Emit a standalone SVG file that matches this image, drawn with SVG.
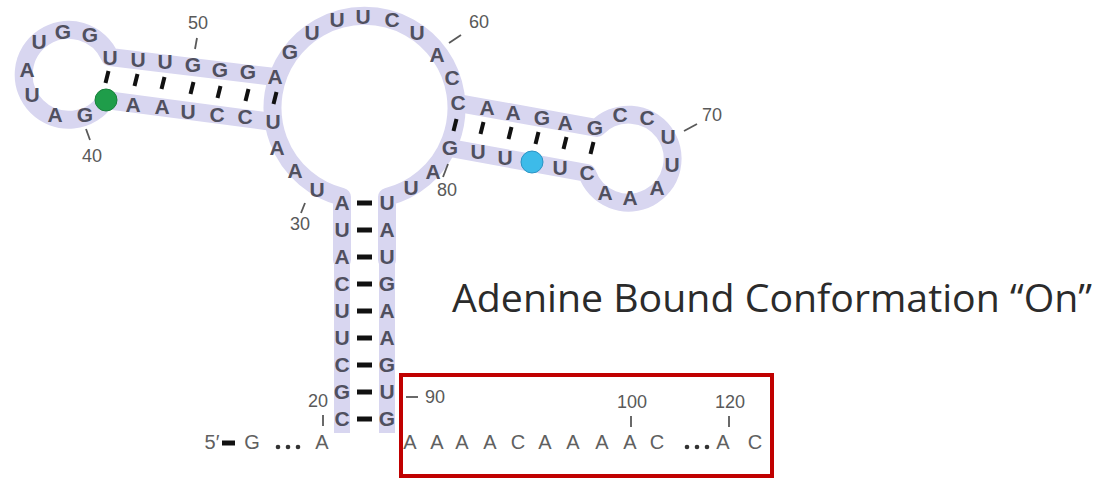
<svg xmlns="http://www.w3.org/2000/svg" width="1109" height="479" viewBox="0 0 1109 479">
<style>
.band{fill:none;stroke:#d8d6f0;stroke-width:18;stroke-linecap:round;stroke-linejoin:round}
.stemband{fill:none;stroke:#d8d6f0;stroke-width:16;stroke-linecap:butt}
.nt{font-family:"Liberation Sans",Arial,sans-serif;font-size:21px;font-weight:bold;fill:#50505f;text-anchor:middle}
.num{font-family:"Liberation Sans",Arial,sans-serif;font-size:18px;fill:#595959;text-anchor:middle}
.seq{font-family:"Liberation Sans",Arial,sans-serif;font-size:20px;fill:#606060;text-anchor:middle}
.tk{stroke:#111;stroke-width:4;stroke-linecap:butt}
.dash{stroke:#111;stroke-width:5}
.lt{stroke:#595959;stroke-width:1.8}
.title{font-family:"Open Sans","Noto Sans",sans-serif;font-size:39px;fill:#2b2b2b}
</style>
<g id="backbone">
<path class="band" d="M342,260 L342,197 A92,92 0 1 1 387,197 L387,260"/>
<path class="stemband" d="M342,250 L342,433 M387,250 L387,433"/>
<path class="band" d="M275,77 L110,57 A45,45 0 1 0 106,100 L273,122"/>
<path class="band" d="M458,103 L597,128 A44,44 0 1 1 587,173 L450,148"/>
</g>
<g id="connectors">
<line class="tk" x1="108.5" y1="71" x2="105.5" y2="83"/>
<line class="tk" x1="137.5" y1="74" x2="134.5" y2="86"/>
<line class="tk" x1="164.5" y1="77" x2="161.5" y2="89"/>
<line class="tk" x1="193.5" y1="82" x2="190.5" y2="94"/>
<line class="tk" x1="220.5" y1="86" x2="217.5" y2="98"/>
<line class="tk" x1="248.5" y1="89" x2="245.5" y2="101"/>
<line class="tk" x1="276.5" y1="92" x2="273.5" y2="104"/>
<line class="tk" x1="456.5" y1="119" x2="453.5" y2="131"/>
<line class="tk" x1="483.5" y1="122" x2="480.5" y2="134"/>
<line class="tk" x1="511.5" y1="127" x2="508.5" y2="139"/>
<line class="tk" x1="538.5" y1="132" x2="535.5" y2="144"/>
<line class="tk" x1="566.5" y1="137" x2="563.5" y2="149"/>
<line class="tk" x1="593.5" y1="142" x2="590.5" y2="154"/>
<line class="dash" x1="357" y1="203" x2="372" y2="203"/>
<line class="dash" x1="357" y1="230" x2="372" y2="230"/>
<line class="dash" x1="357" y1="257" x2="372" y2="257"/>
<line class="dash" x1="357" y1="284" x2="372" y2="284"/>
<line class="dash" x1="357" y1="311" x2="372" y2="311"/>
<line class="dash" x1="357" y1="338" x2="372" y2="338"/>
<line class="dash" x1="357" y1="365" x2="372" y2="365"/>
<line class="dash" x1="357" y1="392" x2="372" y2="392"/>
<line class="dash" x1="357" y1="419" x2="372" y2="419"/>
</g>
<g id="left-hairpin">
<text class="nt" x="110" y="65">U</text>
<text class="nt" x="138" y="67">U</text>
<text class="nt" x="165" y="69">U</text>
<text class="nt" x="193" y="72">G</text>
<text class="nt" x="220" y="77">G</text>
<text class="nt" x="248" y="79">G</text>
<text class="nt" x="275" y="84">A</text>
<text class="nt" x="90" y="42">G</text>
<text class="nt" x="63" y="39">G</text>
<text class="nt" x="39" y="49">U</text>
<text class="nt" x="27" y="77">A</text>
<text class="nt" x="32" y="102">U</text>
<text class="nt" x="55" y="122">A</text>
<text class="nt" x="85" y="122">G</text>
<circle cx="106" cy="100" r="11" fill="#1f9d4a" stroke="#17803a" stroke-width="1"/>
<text class="nt" x="133" y="112">A</text>
<text class="nt" x="162" y="114">A</text>
<text class="nt" x="188" y="119">U</text>
<text class="nt" x="217" y="122">C</text>
<text class="nt" x="245" y="124">C</text>
<text class="nt" x="273" y="129">U</text>
</g>
<g id="central-loop">
<text class="nt" x="290" y="59">G</text>
<text class="nt" x="312" y="40">U</text>
<text class="nt" x="337" y="27">U</text>
<text class="nt" x="363" y="24">U</text>
<text class="nt" x="392" y="27">C</text>
<text class="nt" x="417" y="40">U</text>
<text class="nt" x="437" y="62">A</text>
<text class="nt" x="452" y="85">C</text>
<text class="nt" x="277" y="155">A</text>
<text class="nt" x="295" y="178">A</text>
<text class="nt" x="317" y="197">U</text>
<text class="nt" x="433" y="179">A</text>
<text class="nt" x="411" y="195">U</text>
</g>
<g id="right-hairpin">
<text class="nt" x="458" y="110">C</text>
<text class="nt" x="487" y="115">A</text>
<text class="nt" x="513" y="120">A</text>
<text class="nt" x="542" y="125">G</text>
<text class="nt" x="565" y="130">A</text>
<text class="nt" x="595" y="135">G</text>
<text class="nt" x="620" y="122">C</text>
<text class="nt" x="647" y="125">C</text>
<text class="nt" x="668" y="144">U</text>
<text class="nt" x="672" y="172">U</text>
<text class="nt" x="657" y="195">A</text>
<text class="nt" x="630" y="205">A</text>
<text class="nt" x="605" y="200">A</text>
<text class="nt" x="587" y="180">C</text>
<text class="nt" x="560" y="175">U</text>
<circle cx="532" cy="162" r="11" fill="#3dbbe9" stroke="#2a93c4" stroke-width="1"/>
<text class="nt" x="505" y="165">U</text>
<text class="nt" x="478" y="159">U</text>
<text class="nt" x="450" y="155">G</text>
</g>
<g id="stem">
<text class="nt" x="342" y="210">A</text>
<text class="nt" x="342" y="237">U</text>
<text class="nt" x="342" y="264">A</text>
<text class="nt" x="342" y="291">C</text>
<text class="nt" x="342" y="318">U</text>
<text class="nt" x="342" y="345">U</text>
<text class="nt" x="342" y="372">C</text>
<text class="nt" x="342" y="399">G</text>
<text class="nt" x="342" y="426">C</text>
<text class="nt" x="387" y="210">U</text>
<text class="nt" x="387" y="237">A</text>
<text class="nt" x="387" y="264">U</text>
<text class="nt" x="387" y="291">G</text>
<text class="nt" x="387" y="318">A</text>
<text class="nt" x="387" y="345">A</text>
<text class="nt" x="387" y="372">G</text>
<text class="nt" x="387" y="399">U</text>
<text class="nt" x="387" y="426">G</text>
</g>
<g id="numbering">
<text class="num" x="198" y="29">50</text>
<line class="lt" x1="197" y1="38" x2="195" y2="49"/>
<text class="num" x="92" y="162">40</text>
<line class="lt" x1="86" y1="129" x2="90" y2="140"/>
<text class="num" x="479" y="28">60</text>
<line class="lt" x1="449" y1="43" x2="461" y2="35"/>
<text class="num" x="712" y="121">70</text>
<line class="lt" x1="684" y1="131" x2="697" y2="124"/>
<text class="num" x="447" y="196">80</text>
<line class="lt" x1="443" y1="177" x2="448" y2="164"/>
<text class="num" x="300" y="230">30</text>
<line class="lt" x1="301" y1="213" x2="305" y2="203"/>
<text class="num" x="318" y="407">20</text>
<line class="lt" x1="323" y1="415" x2="323" y2="426"/>
<text class="num" x="435" y="403">90</text>
<line class="lt" x1="406" y1="397" x2="418" y2="397"/>
<text class="num" x="632" y="408">100</text>
<line class="lt" x1="631" y1="416" x2="631" y2="427"/>
<text class="num" x="730" y="408">120</text>
<line class="lt" x1="729" y1="416" x2="729" y2="427"/>
</g>
<g id="five-prime">
<text class="seq" x="212" y="449">5′</text>
<line class="dash" x1="222" y1="443" x2="235" y2="443"/>
<text class="seq" x="252" y="449">G</text>
<circle cx="278" cy="447" r="2.3" fill="#333"/>
<circle cx="288" cy="447" r="2.3" fill="#333"/>
<circle cx="298" cy="447" r="2.3" fill="#333"/>
<text class="seq" x="322" y="449">A</text>
</g>
<g id="tail">
<text class="seq" x="410" y="449">A</text>
<text class="seq" x="437" y="449">A</text>
<text class="seq" x="462" y="449">A</text>
<text class="seq" x="490" y="449">A</text>
<text class="seq" x="518" y="449">C</text>
<text class="seq" x="545" y="449">A</text>
<text class="seq" x="573" y="449">A</text>
<text class="seq" x="602" y="449">A</text>
<text class="seq" x="630" y="449">A</text>
<text class="seq" x="657" y="449">C</text>
<circle cx="687" cy="447" r="2.3" fill="#333"/>
<circle cx="697" cy="447" r="2.3" fill="#333"/>
<circle cx="707" cy="447" r="2.3" fill="#333"/>
<text class="seq" x="723" y="449">A</text>
<text class="seq" x="755" y="449">C</text>
</g>
<g id="highlight-box">
<rect x="401" y="375" width="371" height="101" fill="none" stroke="#c00000" stroke-width="4"/>
</g>
<g id="title">
<text class="title" x="452" y="312" textLength="640" lengthAdjust="spacingAndGlyphs">Adenine Bound Conformation “On”</text>
</g>
</svg>
